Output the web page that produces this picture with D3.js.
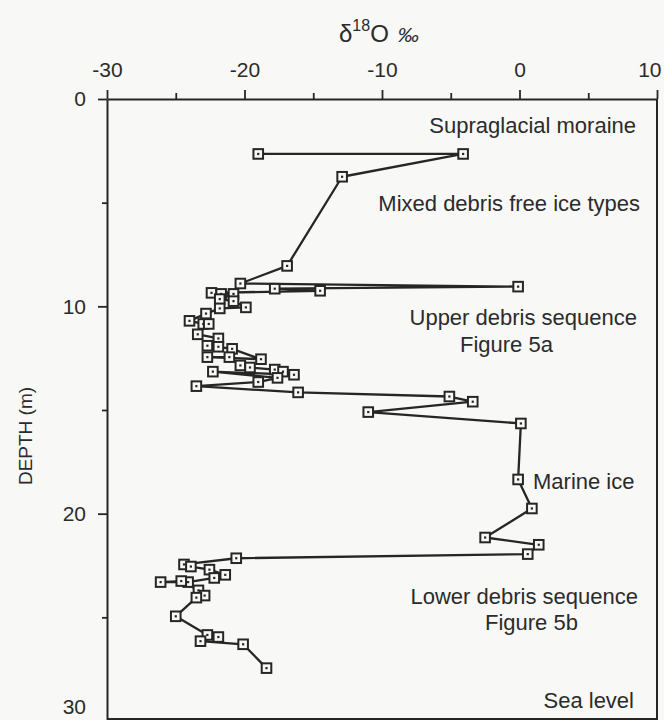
<!DOCTYPE html>
<html>
<head>
<meta charset="utf-8">
<script src="https://cdnjs.cloudflare.com/ajax/libs/d3/7.8.5/d3.min.js"></script>
<style>
  html, body { margin: 0; padding: 0; background: #f8f8f6; }
  svg { display: block; }
  text { font-family: "Liberation Sans", Arial, Helvetica, sans-serif; fill: #2b2b2b; }
</style>
</head>
<body>
<div id="chart"></div>
<script>
// delta 18O (per mil) and depth (m) of each sample, in the order the line joins them
const d18O = [
  -19.0, -4.1, -12.9, -16.9, -20.3, -0.1, -17.8, -14.5, -22.4, -21.7,
  -20.8, -21.8, -20.8, -19.9, -21.8, -22.8, -24.0, -23.0, -22.6, -23.4,
  -21.9, -22.7, -21.9, -20.9, -18.8, -22.7, -21.1, -20.3, -19.6, -17.8,
  -17.2, -16.4, -22.3, -17.6, -19.0, -23.5, -16.1, -5.1, -3.4, -11.0,
  0.1, -0.1, 0.9, -2.5, 1.4, 0.6, -20.6, -24.4, -23.9, -22.55,
  -21.4, -22.2, -24.1, -26.1, -24.6, -23.35, -22.9, -23.5, -25.0, -22.7,
  -21.9, -23.2, -20.1, -18.4
];
const depth = [
  2.65, 2.65, 3.75, 8.05, 8.9, 9.05, 9.15, 9.25, 9.35, 9.4,
  9.4, 9.65, 9.75, 10.05, 10.1, 10.35, 10.7, 10.85, 10.85, 11.35,
  11.55, 11.9, 11.95, 12.05, 12.55, 12.45, 12.45, 12.85, 12.95, 13.05,
  13.15, 13.3, 13.15, 13.45, 13.65, 13.85, 14.15, 14.35, 14.6, 15.1,
  15.65, 18.35, 19.75, 21.15, 21.5, 21.95, 22.15, 22.45, 22.55, 22.7,
  22.95, 23.1, 23.3, 23.3, 23.25, 23.7, 23.95, 24.05, 24.95, 25.85,
  25.95, 26.15, 26.3, 27.45
];

// axis ticks
const xTicks = [-30, -20, -10, 0, 10];
const xMinorTicks = [-25, -15, -5, 5];
const yTicks = [0, 10, 20, 30];
const yMinorTicks = [5, 15, 25];

// annotation texts
const labels = [
  "Supraglacial moraine",
  "Mixed debris free ice types",
  "Upper debris sequence",
  "Figure 5a",
  "Marine ice",
  "Lower debris sequence",
  "Figure 5b",
  "Sea level"
];

const W = 664, H = 720;
const ink = "#262626";

const svg = d3.select("#chart").append("svg")
  .attr("width", W)
  .attr("height", H);

svg.append("rect").attr("width", W).attr("height", H).attr("fill", "#f8f8f6");

const x = d3.scaleLinear().domain([-30, 10]).range([107, 657]);
const y = d3.scaleLinear().domain([0, 30]).range([99, 721]);

// frame (right and bottom sides)
svg.append("line")
  .attr("x1", x(10)).attr("x2", x(10)).attr("y1", y(0)).attr("y2", y(30))
  .attr("stroke", ink).attr("stroke-width", 2);
svg.append("line")
  .attr("x1", x(-30)).attr("x2", x(10)).attr("y1", y(30) - 2).attr("y2", y(30) - 2)
  .attr("stroke", ink).attr("stroke-width", 2);

// top axis
const xAxisG = svg.append("g")
  .attr("transform", `translate(0,${y(0)})`)
  .call(d3.axisTop(x).tickValues(xTicks).tickSize(9).tickPadding(13)
    .tickFormat(d => d).tickSizeOuter(0));
// last label sits left of its tick so it stays inside the page
xAxisG.selectAll(".tick text").filter(d => d === 10)
  .attr("text-anchor", "end").attr("x", 4);
svg.append("g")
  .attr("transform", `translate(0,${y(0)})`)
  .call(d3.axisTop(x).tickValues(xMinorTicks).tickSize(6).tickFormat("").tickSizeOuter(0))
  .select(".domain").remove();

// left axis
const yAxisG = svg.append("g")
  .attr("transform", `translate(${x(-30)},0)`)
  .call(d3.axisLeft(y).tickValues(yTicks).tickSize(9).tickPadding(12)
    .tickFormat(d => d).tickSizeOuter(0));
yAxisG.selectAll(".tick text").filter(d => d === 30).attr("dy", "-0.36em");
svg.append("g")
  .attr("transform", `translate(${x(-30)},0)`)
  .call(d3.axisLeft(y).tickValues(yMinorTicks).tickSize(5).tickFormat("").tickSizeOuter(0))
  .select(".domain").remove();

svg.selectAll(".domain").attr("stroke", ink).attr("stroke-width", 2);
svg.selectAll(".tick line").attr("stroke", ink).attr("stroke-width", 1.8);
svg.selectAll(".tick text")
  .style("font-size", "21px")
  .style("font-family", "'Liberation Sans', Arial, sans-serif")
  .attr("fill", "#2b2b2b");

// axis titles
const title = svg.append("text")
  .attr("x", 339)
  .attr("y", 42)
  .style("font-size", "24px");
title.append("tspan").text("δ");
title.append("tspan").attr("dy", -11).style("font-size", "16px").text("18");
title.append("tspan").attr("dy", 11).text("O");
title.append("tspan").attr("dx", 9).style("font-style", "italic").style("font-size", "21px").text("‰");

svg.append("text")
  .attr("transform", "translate(32,436) rotate(-90)")
  .attr("text-anchor", "middle")
  .style("font-size", "19px")
  .text("DEPTH (m)");

// profile line
const pts = d18O.map((v, i) => [v, depth[i]]);
const line = d3.line()
  .x(d => x(d[0]))
  .y(d => y(d[1]));

svg.append("path")
  .datum(pts)
  .attr("fill", "none")
  .attr("stroke", ink)
  .attr("stroke-width", 2.3)
  .attr("stroke-linejoin", "round")
  .attr("d", line);

// sample markers: small squares with a dot
const marks = svg.append("g").selectAll("g")
  .data(pts)
  .join("g")
  .attr("transform", d => `translate(${x(d[0])},${y(d[1])})`);
marks.append("rect")
  .attr("x", -4.8).attr("y", -4.8)
  .attr("width", 9.6).attr("height", 9.6)
  .attr("fill", "#f8f8f6")
  .attr("stroke", ink)
  .attr("stroke-width", 2);
marks.append("rect")
  .attr("x", -1.1).attr("y", -1.1)
  .attr("width", 2.2).attr("height", 2.2)
  .attr("fill", ink);

// annotations (anchor, x, baseline)
const labelPos = [
  ["end", 636, 133], ["end", 640, 211], ["end", 637, 325], ["start", 460, 352],
  ["start", 533, 489], ["end", 638, 604], ["start", 485, 630], ["end", 634, 708]
];
svg.append("g").selectAll("text")
  .data(labels)
  .join("text")
  .attr("text-anchor", (d, i) => labelPos[i][0])
  .attr("x", (d, i) => labelPos[i][1])
  .attr("y", (d, i) => labelPos[i][2])
  .style("font-size", "22px")
  .text(d => d);
</script>
</body>
</html>
